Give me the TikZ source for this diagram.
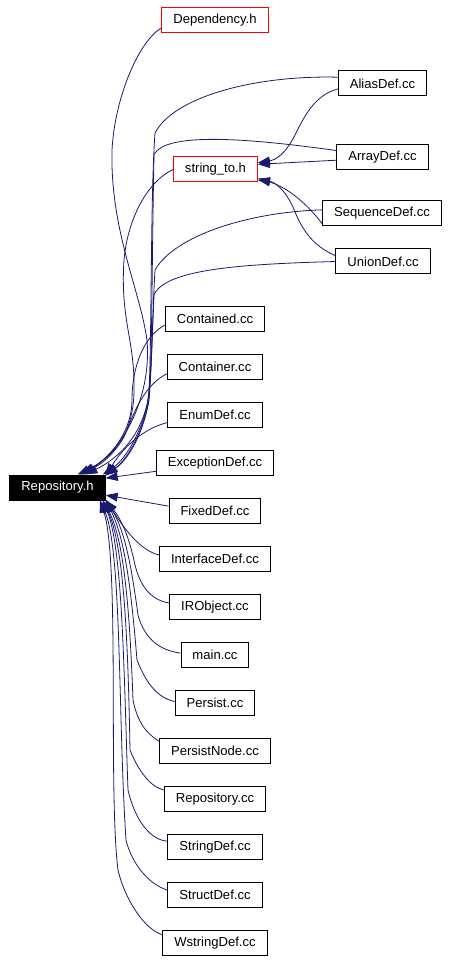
\documentclass[tikz,border=0pt]{standalone}
\usepackage{fontspec}
\setmainfont{Liberation Sans}
\usetikzlibrary{arrows.meta}
\definecolor{edgeblue}{RGB}{25,25,112}

\begin{document}
\begin{tikzpicture}[x=0.75pt, y=-0.75pt, node distance=36pt,
    filebox/.style={draw=black, line width=0.75pt, minimum height=18.75pt,
        inner xsep=8.6pt, inner ysep=2pt, font=\fontsize{9.8}{11}\selectfont},
    redbox/.style={filebox, draw=red},
    incl/.style={draw=edgeblue, line width=0.6pt,
        -{Triangle[length=9pt,width=6.5pt]}}]
    \useasboundingbox (0,0) rectangle (450,962);

    % the header and the files that include it
    \node[filebox, fill=black, text=white] (rep) at (57.5,487.5) {Repository.h};
    \node[redbox] (dep) at (215,20.5) {Dependency.h};
    \node[redbox] (sto) at (215.5,169.5) {string\_to.h};
    \node[filebox] (alias) at (382.5,83.5) {AliasDef.cc};
    \node[filebox] (array) at (382.5,157) {ArrayDef.cc};
    \node[filebox] (seq) at (382,213) {SequenceDef.cc};
    \node[filebox] (union) at (383,261.5) {UnionDef.cc};

    \node[filebox] (contd) at (215,319) {Contained.cc};
    \node[filebox, below of=contd] (contr) {Container.cc};
    \node[filebox, below of=contr] (enum) {EnumDef.cc};
    \node[filebox, below of=enum] (exc) {ExceptionDef.cc};
    \node[filebox, below of=exc] (fixed) {FixedDef.cc};
    \node[filebox, below of=fixed] (iface) {InterfaceDef.cc};
    \node[filebox, below of=iface] (irobj) {IRObject.cc};
    \node[filebox, below of=irobj] (main) {main.cc};
    \node[filebox, below of=main] (pers) {Persist.cc};
    \node[filebox, below of=pers] (pnode) {PersistNode.cc};
    \node[filebox, below of=pnode] (repcc) {Repository.cc};
    \node[filebox, below of=repcc] (strd) {StringDef.cc};
    \node[filebox, below of=strd] (strc) {StructDef.cc};
    \node[filebox, below of=strc] (wstr) {WstringDef.cc};

    % edges into string_to.h
    \draw[incl] (alias.187) .. controls (315,95) and (305,115) .. (295,135)
        .. controls (285,155) and (275,160) .. (sto.9);
    \draw[incl] (array.184) -- (sto.7);
    \draw[incl] (seq.190) .. controls (300,195) and (280,185) .. (sto.-12);
    \draw[incl] (union.173) .. controls (310,245) and (300,225) .. (293,207)
        .. controls (285,190) and (275,182) .. (sto.-14);

    % edges from above into Repository.h
    \draw[incl] (dep.188) .. controls (140,40) and (115,95) .. (112,150)
        .. controls (110,230) and (140,290) .. (147,340)
        .. controls (152,400) and (120,455) .. (rep.33);
    \draw[incl] (sto.west) .. controls (150,180) and (128,215) .. (124,260)
        .. controls (120,320) and (135,340) .. (134,390)
        .. controls (134,430) and (115,458) .. (rep.30);
    \draw[incl] (alias.172) .. controls (260,75) and (175,95) .. (155,133)
        .. controls (150,200) and (152,380) .. (148,400)
        .. controls (140,440) and (115,460) .. (rep.25);
    \draw[incl] (array.172) .. controls (260,140) and (165,130) .. (154,155)
        .. controls (152,250) and (152,370) .. (149,400)
        .. controls (142,440) and (125,462) .. (rep.15);
    \draw[incl] (seq.177) .. controls (250,212) and (175,235) .. (155,270)
        .. controls (152,320) and (152,380) .. (148,405)
        .. controls (140,440) and (124,462) .. (rep.14);
    \draw[incl] (union.west) .. controls (250,264) and (165,268) .. (154,295)
        .. controls (152,340) and (151,390) .. (146,410)
        .. controls (138,440) and (122,462) .. (rep.16);
    \draw[incl] (contd.187) .. controls (145,335) and (132,365) .. (132,400)
        .. controls (132,430) and (112,456) .. (rep.28);
    \draw[incl] (contr.188) .. controls (145,385) and (135,410) .. (127,430)
        .. controls (120,450) and (100,462) .. (rep.26);
    \draw[incl] (enum.189) .. controls (145,428) and (125,445) .. (rep.14);
    \draw[incl] (exc.188) -- (rep.11);
    \draw[incl] (fixed.174) -- (rep.-9);

    % edges from below into Repository.h
    \draw[incl] (iface.176) .. controls (140,550) and (125,530) .. (rep.-14);
    \draw[incl] (irobj.175) .. controls (150,600) and (140,585) .. (135,565)
        .. controls (130,540) and (122,520) .. (rep.-15);
    \draw[incl] (main.177) .. controls (160,650) and (145,640) .. (138,615)
        .. controls (132,570) and (125,530) .. (rep.-15);
    \draw[incl] (pers.178) .. controls (155,697) and (145,680) .. (137,660)
        .. controls (132,600) and (126,540) .. (rep.-15);
    \draw[incl] (pnode.170) .. controls (145,733) and (137,720) .. (133,700)
        .. controls (130,620) and (125,540) .. (rep.-16);
    \draw[incl] (repcc.170) .. controls (150,787) and (138,770) .. (130,750)
        .. controls (128,640) and (124,545) .. (rep.-16);
    \draw[incl] (strd.173) .. controls (150,840) and (135,820) .. (128,790)
        .. controls (124,680) and (123,550) .. (rep.-16);
    \draw[incl] (strc.174) .. controls (150,885) and (132,865) .. (126,840)
        .. controls (118,720) and (122,550) .. (rep.-17);
    \draw[incl] (wstr.171) .. controls (145,930) and (125,900) .. (118,870)
        .. controls (108,790) and (120,560) .. (rep.-17);
\end{tikzpicture}
\end{document}
